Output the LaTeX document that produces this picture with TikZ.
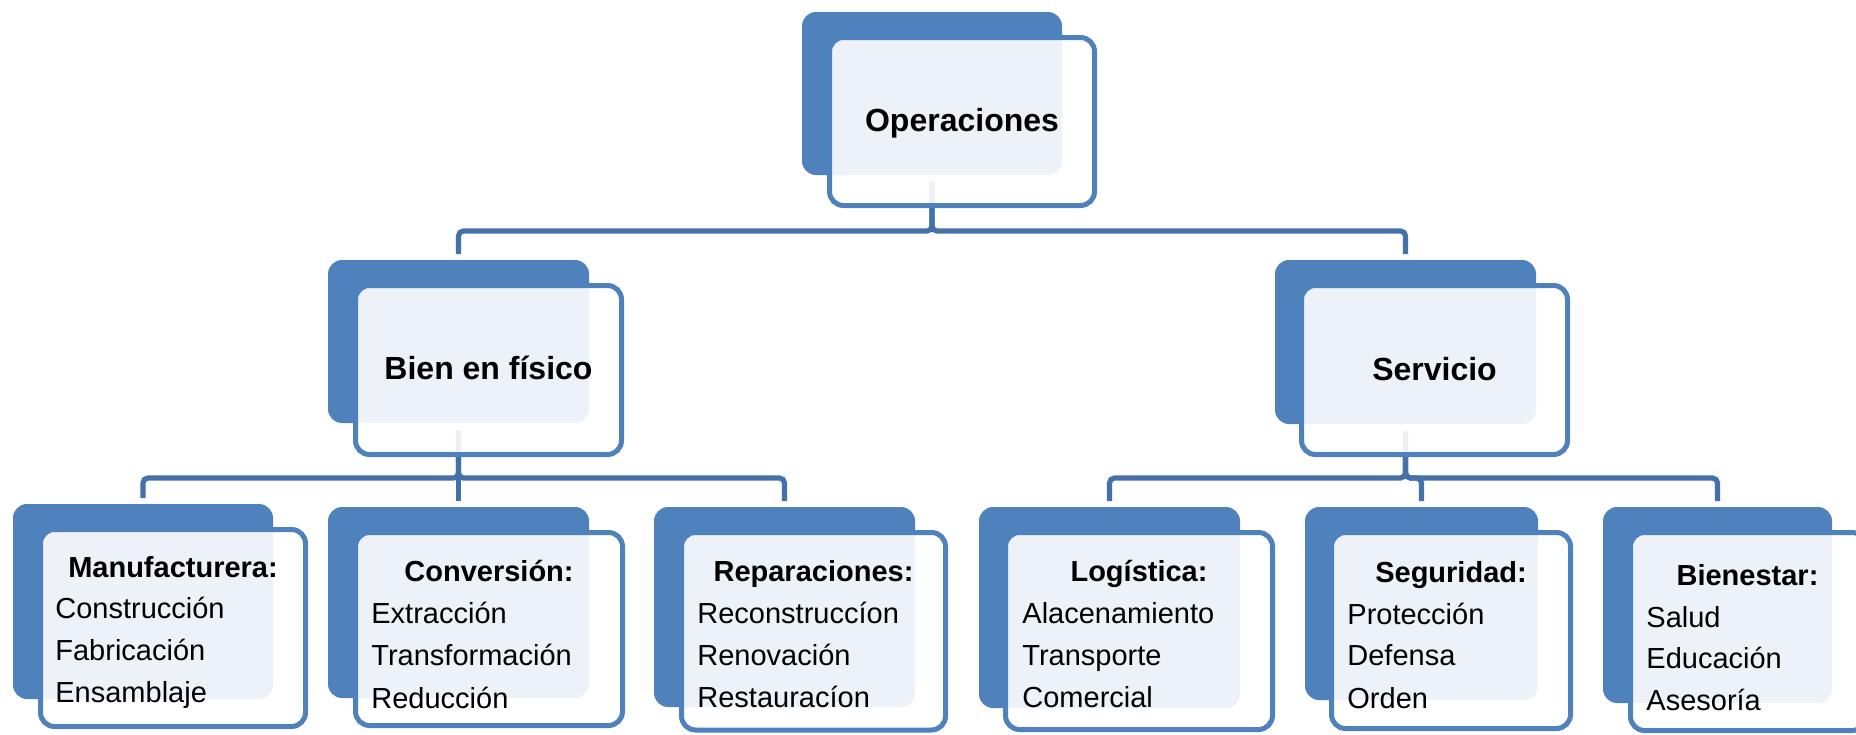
\documentclass[tikz,border=0pt]{standalone}
\usepackage{fontspec}
\setmainfont{Liberation Sans}
\usetikzlibrary{fit,calc}
\definecolor{boxblue}{HTML}{4F81BD}
\definecolor{lineblue}{HTML}{4472A8}
\tikzset{
  bluebox/.style={fit={#1}, inner sep=0pt, outer sep=0pt, fill=boxblue, draw=none, rounded corners=7pt},
  whitebox/.style={fit={#1}, inner sep=0pt, outer sep=0pt, fill=white, fill opacity=0.9, draw=boxblue, line width=2.5pt, rounded corners=7pt},
  conn/.style={draw=lineblue, line width=2.6pt, rounded corners=2.5pt},
  bigtxt/.style={anchor=base, inner sep=0pt, font=\fontsize{16}{19}\selectfont\bfseries},
  headtxt/.style={anchor=base, inner sep=0pt, font=\fontsize{14.5}{21}\selectfont\bfseries},
  itemtxt/.style={anchor=base west, inner sep=0pt, font=\fontsize{14.5}{21}\selectfont},
}
\begin{document}
\begin{tikzpicture}[x=0.5pt,y=-0.5pt]
\useasboundingbox (0,0) rectangle (1856,734);
\clip (0,0) rectangle (1856,734);
% blue back boxes
\node[bluebox={(802,12) (1062,175)}] (op) {};
\node[bluebox={(328,260) (589,423)}] (bien) {};
\node[bluebox={(1275,260) (1536,424)}] (serv) {};
\node[bluebox={(13,504) (273,699)}] (man) {};
\node[bluebox={(328,507) (589,698)}] (conv) {};
\node[bluebox={(654,507) (915,707)}] (rep) {};
\node[bluebox={(979,507) (1240,708)}] (log) {};
\node[bluebox={(1305,507) (1538,700)}] (seg) {};
\node[bluebox={(1603,507) (1832,703)}] (bie) {};
% connector levels
\coordinate (h1) at (0,231);
\coordinate (h2) at (0,478);
% connectors
\draw[conn] ([yshift=-3.5pt]op.south) -- (op.south |- h1) -| ([yshift=3pt]bien.north);
\draw[conn] ([yshift=-3.5pt]op.south) -- (op.south |- h1) -| ([yshift=3pt]serv.north);
\foreach \c in {man,conv,rep}{
  \draw[conn] ([yshift=-3.5pt]bien.south) -- (bien.south |- h2) -| ([yshift=3pt]\c.north);
}
\foreach \c in {log,seg,bie}{
  \draw[conn] ([yshift=-3.5pt]serv.south) -- (serv.south |- h2) -| ([yshift=3pt]\c.north);
}
% white front boxes
\node[whitebox={(829.5,37.5) (1094.5,205.5)}] (opw) {};
\node[whitebox={(355.5,285.5) (621.5,454.5)}] (bienw) {};
\node[whitebox={(1301.5,285.5) (1567.5,454.5)}] (servw) {};
\node[whitebox={(40.5,529.5) (305.5,726.5)}] (manw) {};
\node[whitebox={(355.5,532.5) (622.5,725.5)}] (convw) {};
\node[whitebox={(681.5,532.5) (945.5,730)}] (repw) {};
\node[whitebox={(1005.5,532.5) (1272.5,729.5)}] (logw) {};
\node[whitebox={(1331.5,532.5) (1570.5,728.5)}] (segw) {};
\node[whitebox={(1630.5,532.5) (1866,730.5)}] (biew) {};
% texts
\node[bigtxt] (opt) at (962,131) {Operaciones};
\node[bigtxt] (bient) at (488.5,379) {Bien en físico};
\node[bigtxt] (servt) at (1434.5,380) {Servicio};
\node[headtxt] (manh) at (173,577) {Manufacturera:};
\node[itemtxt] (mani1) at (55,618) {Construcción};
\node[itemtxt] (mani2) at (55,660) {Fabricación};
\node[itemtxt] (mani3) at (55,702) {Ensamblaje};
\node[headtxt] (convh) at (489,581) {Conversión:};
\node[itemtxt] (convi1) at (371,623) {Extracción};
\node[itemtxt] (convi2) at (371,665) {Transformación};
\node[itemtxt] (convi3) at (371,708) {Reducción};
\node[headtxt] (reph) at (813.5,581) {Reparaciones:};
\node[itemtxt] (repi1) at (697,623) {Reconstruccíon};
\node[itemtxt] (repi2) at (697,665) {Renovación};
\node[itemtxt] (repi3) at (697,707) {Restauracíon};
\node[headtxt] (logh) at (1139,581) {Logística:};
\node[itemtxt] (logi1) at (1022,623) {Alacenamiento};
\node[itemtxt] (logi2) at (1022,665) {Transporte};
\node[itemtxt] (logi3) at (1022,707) {Comercial};
\node[headtxt] (segh) at (1451,582) {Seguridad:};
\node[itemtxt] (segi1) at (1347,624) {Protección};
\node[itemtxt] (segi2) at (1347,665) {Defensa};
\node[itemtxt] (segi3) at (1347,708) {Orden};
\node[headtxt] (bieh) at (1747.5,585) {Bienestar:};
\node[itemtxt] (biei1) at (1646,627) {Salud};
\node[itemtxt] (biei2) at (1646,668) {Educación};
\node[itemtxt] (biei3) at (1646,710) {Asesoría};
\end{tikzpicture}
\end{document}
